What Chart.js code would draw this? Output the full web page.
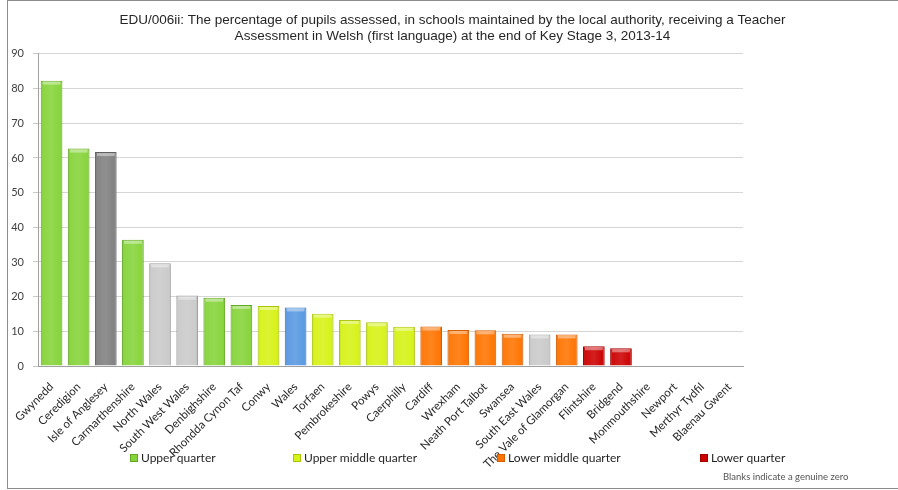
<!DOCTYPE html>
<html>
<head>
<meta charset="utf-8">
<title>EDU/006ii Teacher Assessment in Welsh, KS3 2013-14</title>
<script src="https://cdn.jsdelivr.net/npm/chart.js@4.4.1/dist/chart.umd.min.js"></script>
<style>
  html, body { margin: 0; padding: 0; background: #fff; }
  #wrap { position: relative; width: 898px; height: 490px; overflow: hidden; }
  #frame { position: absolute; left: 7px; top: 0; width: 900px; height: 489px; border: 1px solid #8c8c8c; box-sizing: border-box; }
  #chart { position: absolute; left: 0; top: 0; }
</style>
</head>
<body>
<div id="wrap">
  <div id="frame"></div>
  <canvas id="chart" width="898" height="490"></canvas>
</div>
<script>
// Local authorities and regions, sorted by percentage
const regions = [
  "Gwynedd", "Ceredigion", "Isle of Anglesey", "Carmarthenshire", "North Wales",
  "South West Wales", "Denbighshire", "Rhondda Cynon Taf", "Conwy", "Wales",
  "Torfaen", "Pembrokeshire", "Powys", "Caerphilly", "Cardiff", "Wrexham",
  "Neath Port Talbot", "Swansea", "South East Wales", "The Vale of Glamorgan",
  "Flintshire", "Bridgend", "Monmouthshire", "Newport", "Merthyr Tydfil", "Blaenau Gwent"
];

// % of pupils assessed in Welsh (first language) at end of KS3
const pct = [
  82.3, 62.7, 61.7, 36.4, 29.6,
  20.3, 19.7, 17.6, 17.3, 16.9,
  15.1, 13.3, 12.6, 11.3, 11.4, 10.4,
  10.3, 9.3, 9.1, 9.1,
  5.7, 5.1, 0, 0, 0, 0
];

// Quarter each bar belongs to (regions and Wales get their own shades)
const band = [
  "upper", "upper", "focus", "upper", "region",
  "region", "upper", "upper", "upperMid", "wales",
  "upperMid", "upperMid", "upperMid", "upperMid", "lowerMid", "lowerMid",
  "lowerMid", "lowerMid", "region", "lowerMid",
  "lower", "lower", "lower", "lower", "lower", "lower"
];

const yTicks = [0, 10, 20, 30, 40, 50, 60, 70, 80, 90];

const legendNames = ["Upper quarter", "Upper middle quarter", "Lower middle quarter", "Lower quarter"];
const legendBands = ["upper", "upperMid", "lowerMid", "lower"];

const fills = {
  upper:    'rgb(134, 212, 58)',
  upperMid: 'rgb(214, 242, 22)',
  lowerMid: 'rgb(255, 116, 0)',
  lower:    'rgb(204, 0, 0)',
  region:   'rgb(202, 202, 202)',
  focus:    'rgb(128, 128, 128)',
  wales:    'rgb(88, 152, 226)'
};
const edges = {
  upper:    'rgb(96, 168, 34)',
  upperMid: 'rgb(170, 196, 10)',
  lowerMid: 'rgb(214, 92, 0)',
  lower:    'rgb(160, 0, 0)',
  region:   'rgb(160, 160, 160)',
  focus:    'rgb(96, 96, 96)',
  wales:    'rgb(60, 118, 190)'
};

const baseFont = 'Lato, "Open Sans", sans-serif';

// gives the bars a bevelled, glassy look like the Office chart style
const bevel = {
  id: 'bevel',
  afterDatasetsDraw(chart) {
    const c = chart.ctx;
    chart.getDatasetMeta(0).data.forEach(bar => {
      const h = bar.base - bar.y;
      if (h < 1) return;
      const l = bar.x - bar.width / 2, r = bar.x + bar.width / 2;
      c.save();
      const g = c.createLinearGradient(l, 0, r, 0);
      g.addColorStop(0, 'rgba(0,0,0,0.18)');
      g.addColorStop(0.12, 'rgba(255,255,255,0.05)');
      g.addColorStop(0.5, 'rgba(255,255,255,0.12)');
      g.addColorStop(0.88, 'rgba(255,255,255,0.02)');
      g.addColorStop(1, 'rgba(0,0,0,0.2)');
      c.fillStyle = g;
      c.fillRect(l + 1, bar.y + 1, bar.width - 2, h - 1);
      // light cap on top
      c.fillStyle = 'rgba(255,255,255,0.4)';
      c.fillRect(l + 2, bar.y + 1, bar.width - 4, Math.min(3, h - 1));
      c.restore();
    });
  }
};

// legend row sits over the rotated labels, plus the footnote
const quarterLegend = {
  id: 'quarterLegend',
  afterDraw(chart, args, opts) {
    const c = chart.ctx;
    c.save();
    c.font = '12px ' + baseFont;
    c.textBaseline = 'middle';
    legendNames.forEach((name, i) => {
      const x = opts.xs[i];
      c.fillStyle = fills[legendBands[i]];
      c.fillRect(x, opts.y - 4, 8, 8);
      c.strokeStyle = edges[legendBands[i]];
      c.lineWidth = 1;
      c.strokeRect(x + 0.5, opts.y - 3.5, 7, 7);
      c.fillStyle = '#1f1f1f';
      c.fillText(name, x + 11, opts.y);
    });
    c.font = '9.5px ' + baseFont;
    c.fillStyle = '#555';
    c.fillText('Blanks indicate a genuine zero', 723, 477);
    c.restore();
  }
};

const ctx = document.getElementById('chart').getContext('2d');

new Chart(ctx, {
  type: 'bar',
  data: {
    labels: regions,
    datasets: [{
      data: pct,
      backgroundColor: band.map(b => fills[b]),
      borderColor: band.map(b => edges[b]),
      borderWidth: pct.map(v => v > 0 ? 1 : 0),
      borderSkipped: 'bottom',
      barPercentage: 0.8,
      categoryPercentage: 1
    }]
  },
  options: {
    responsive: false,
    animation: false,
    layout: { padding: { left: 7, right: 0, top: 0, bottom: 0 } },
    plugins: {
      legend: { display: false },
      tooltip: { enabled: false },
      title: {
        display: true,
        text: [
          'EDU/006ii: The percentage of pupils assessed, in schools maintained by the local authority, receiving a Teacher',
          'Assessment in Welsh (first language) at the end of Key Stage 3, 2013-14'
        ],
        color: '#262626',
        font: { family: '"Liberation Sans", Arial, sans-serif', size: 13.5, weight: 'normal', lineHeight: 1.22 },
        padding: { top: 12, bottom: 9 }
      },
      quarterLegend: { xs: [130, 293, 497, 700], y: 458 }
    },
    scales: {
      x: {
        grid: { display: false },
        border: { color: '#a0a0a0' },
        ticks: {
          autoSkip: false,
          minRotation: 45,
          maxRotation: 45,
          padding: 6,
          color: '#262626',
          font: { family: baseFont, size: 11.5 }
        },
        afterFit(s) { s.height = 124; }
      },
      y: {
        min: 0,
        max: 90,
        afterBuildTicks(s) { s.ticks = yTicks.map(v => ({ value: v })); },
        ticks: { color: '#404040', padding: 9, font: { family: baseFont, size: 11 } },
        grid: { color: '#d6d6d6', tickLength: 5, tickColor: '#c8c8c8' },
        border: { color: '#a0a0a0' },
        afterFit(s) { s.width = 31; }
      },
      // empty space on the right where the plot stops
      spacer: {
        type: 'linear',
        position: 'right',
        grid: { display: false },
        border: { display: false },
        ticks: { display: false },
        afterFit(s) { s.width = 155; }
      }
    }
  },
  plugins: [bevel, quarterLegend]
});
</script>
</body>
</html>
